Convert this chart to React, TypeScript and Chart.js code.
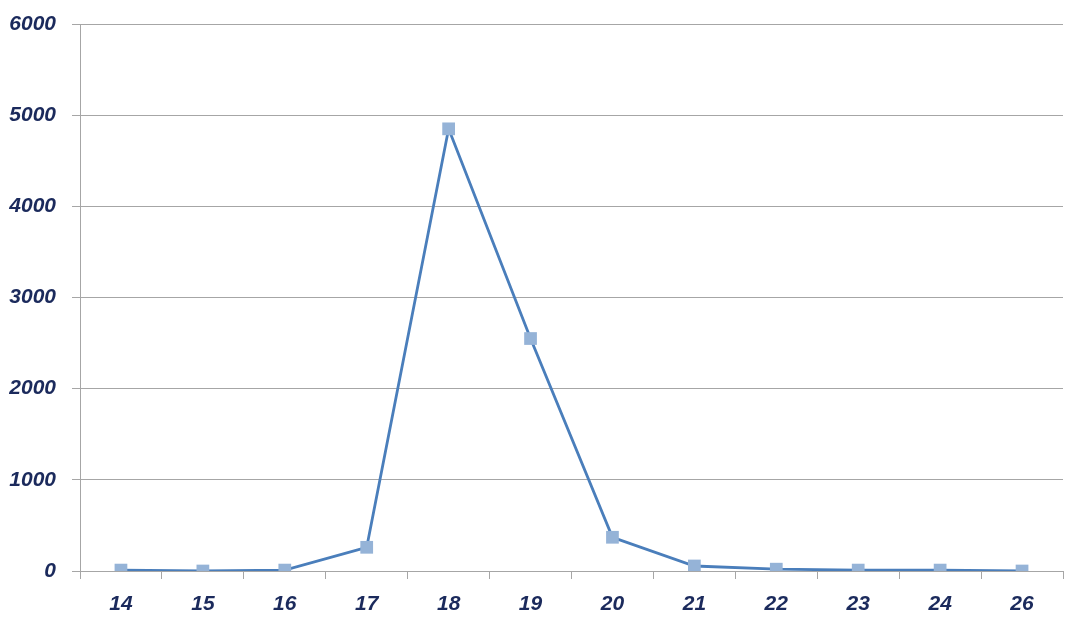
import React, { useEffect, useRef } from "react";
import { Chart, registerables } from "chart.js";

Chart.register(...registerables);

const categories = ["14", "15", "16", "17", "18", "19", "20", "21", "22", "23", "24", "26"];
const seriesValues = [10, 0, 10, 260, 4850, 2550, 370, 55, 20, 10, 10, 0];
const yTicks = [0, 1000, 2000, 3000, 4000, 5000, 6000];

const fontSpec = { family: "'Liberation Sans', Arial, sans-serif", size: 21, weight: "bold" as const, style: "italic" as const };
const textColor = "#1B2A5C";
const gridColor = "#A6A6A6";

export default function App() {
  const canvasRef = useRef<HTMLCanvasElement | null>(null);

  useEffect(() => {
    document.body.style.margin = "0";
    const canvas = canvasRef.current;
    if (!canvas) return;
    const chart = new Chart(canvas, {
      type: "line",
      data: {
        labels: categories,
        datasets: [
          {
            data: seriesValues,
            borderColor: "#4A7EBB",
            borderWidth: 2.8,
            backgroundColor: "#95B3D7",
            pointBackgroundColor: "#95B3D7",
            pointBorderColor: "#95B3D7",
            pointStyle: "rect",
            pointRadius: 9,
            pointBorderWidth: 0,
            tension: 0,
            fill: false,
          },
        ],
      },
      options: {
        animation: false,
        responsive: false,
        maintainAspectRatio: false,
        layout: { padding: { top: 24, right: 17, left: 0, bottom: 0 } },
        plugins: { legend: { display: false }, tooltip: { enabled: false } },
        scales: {
          x: {
            offset: true,
            grid: {
              display: true,
              offset: true,
              drawOnChartArea: false,
              drawTicks: true,
              tickLength: 8,
              color: gridColor,
            },
            border: { display: true, color: gridColor, width: 1 },
            ticks: { color: textColor, font: fontSpec, padding: 13, maxRotation: 0, autoSkip: false },
            afterFit: (scale: any) => {
              scale.height = 54;
              scale.paddingLeft = 0;
              scale.paddingRight = 0;
            },
          },
          y: {
            min: 0,
            max: 6000,
            afterBuildTicks: (scale: any) => {
              scale.ticks = yTicks.map((v) => ({ value: v }));
            },
            grid: { color: gridColor, tickLength: 8, drawTicks: true },
            border: { display: true, color: gridColor, width: 1 },
            ticks: { color: textColor, font: fontSpec, padding: 16, callback: (v: any) => String(v) },
            afterFit: (scale: any) => {
              scale.width = 80;
              scale.paddingTop = 0;
              scale.paddingBottom = 0;
            },
          },
        },
      },
    });
    return () => chart.destroy();
  }, []);

  return (
    <div style={{ position: "absolute", left: 0, top: 0, width: 1080, height: 625, background: "#fff" }}>
      <canvas ref={canvasRef} width={1080} height={625} style={{ width: 1080, height: 625 }} />
    </div>
  );
}
